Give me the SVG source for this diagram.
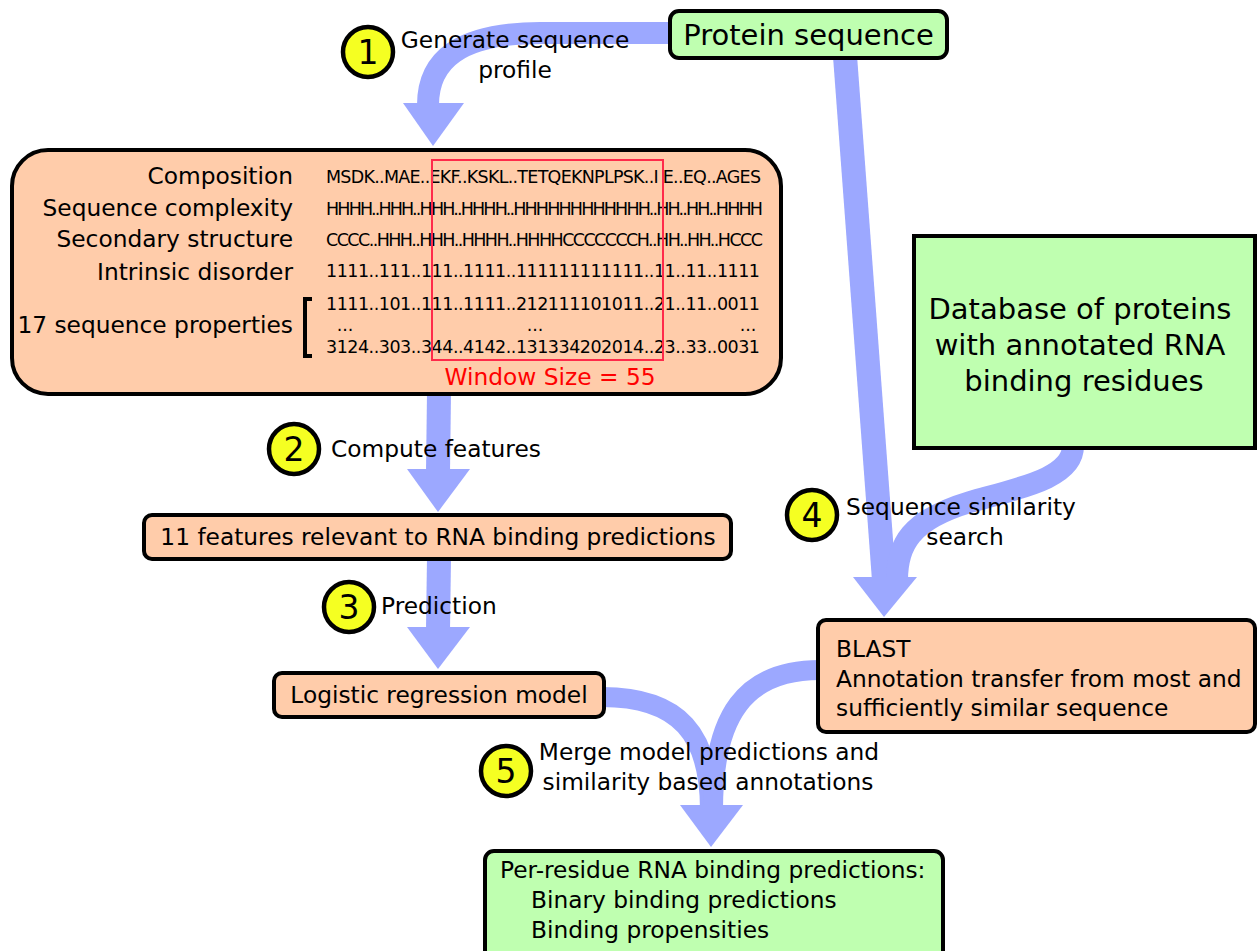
<svg xmlns="http://www.w3.org/2000/svg" width="1257" height="951" viewBox="0 0 1257 951">
<style>
text{font-family:"DejaVu Sans","Liberation Sans",sans-serif;fill:#000}
.t{font-size:23.3px}
.big{font-size:29px}
.seq{font-size:17.5px}
.orange{fill:#ffccaa;stroke:#000;stroke-width:4}
.green{fill:#bfffb0;stroke:#000;stroke-width:4}
.arr{fill:none;stroke:#9ca8ff}
.head{fill:#9ca8ff}
.num{fill:#f5ff22;stroke:#000;stroke-width:4.5}
.nt{font-size:33px;text-anchor:middle}
</style>
<rect width="1257" height="951" fill="#fff"/>
<g id="connectors">
  <path class="arr" stroke-width="22" d="M672 33 L540 33 C460 33 428 60 428 105"/>
  <polygon class="head" points="403,103 464,103 433,146"/>
  <path class="arr" stroke-width="24" d="M439 392 L438 472"/>
  <polygon class="head" points="407,469 470,469 438,512"/>
  <path class="arr" stroke-width="24" d="M439 557 L438 630"/>
  <polygon class="head" points="407,627 470,627 438,669"/>
  <path class="arr" stroke-width="24" d="M845 56 L884 580"/>
  <polygon class="head" points="853,577 917,577 884,617"/>
  <path class="arr" stroke-width="22" d="M1073 446 C1073 478 1020 488 970 502 C910 520 897 545 897 580"/>
  <path class="arr" stroke-width="20" d="M602 697 C680 697 710 735 710 810"/>
  <path class="arr" stroke-width="20" d="M820 670 C745 670 713 715 713 810"/>
  <polygon class="head" points="680,805 743,805 711,847"/>
</g>
<g id="protein">
  <rect class="green" x="670" y="11" width="277" height="47" rx="9"/>
  <text class="big" x="808.5" y="45" text-anchor="middle">Protein sequence</text>
</g>
<g id="step1">
  <circle class="num" cx="368" cy="52" r="25"/>
  <text class="nt" x="368" y="64">1</text>
  <text class="t" x="515" y="48" text-anchor="middle">Generate sequence</text>
  <text class="t" x="515" y="78" text-anchor="middle">profile</text>
</g>
<g id="profile">
  <rect class="orange" x="12" y="150" width="769" height="244" rx="36"/>
  <g class="t" text-anchor="end">
    <text x="293" y="184">Composition</text>
    <text x="293" y="216">Sequence complexity</text>
    <text x="293" y="247">Secondary structure</text>
    <text x="293" y="280">Intrinsic disorder</text>
    <text x="293" y="333">17 sequence properties</text>
  </g>
  <path d="M312 299 L305 299 L305 356 L312 356" fill="none" stroke="#000" stroke-width="4"/>
  <g class="seq">
    <text x="326" y="183" textLength="435" lengthAdjust="spacing">MSDK..MAE..EKF..KSKL..TETQEKNPLPSK..I E..EQ..AGES</text>
    <text x="326" y="215" textLength="437" lengthAdjust="spacing">HHHH..HHH..HHH..HHHH..HHHHHHHHHHHH..HH..HH..HHHH</text>
    <text x="326" y="246" textLength="437" lengthAdjust="spacing">CCCC..HHH..HHH..HHHH..HHHHCCCCCCCH..HH..HH..HCCC</text>
    <text x="326" y="277" textLength="434" lengthAdjust="spacing">1111..111..111..1111..111111111111..11..11..1111</text>
    <text x="326" y="310" textLength="434" lengthAdjust="spacing">1111..101..111..1111..212111101011..21..11..0011</text>
    <text x="345" y="331" text-anchor="middle">...</text>
    <text x="535" y="331" text-anchor="middle">...</text>
    <text x="748" y="331" text-anchor="middle">...</text>
    <text x="326" y="353" textLength="434" lengthAdjust="spacing">3124..303..344..4142..131334202014..23..33..0031</text>
  </g>
  <rect x="432" y="160" width="231" height="200" fill="none" stroke="#ff2a4a" stroke-width="2"/>
  <text class="t" x="550" y="385" text-anchor="middle" style="fill:#ff0000">Window Size = 55</text>
</g>
<g id="step2">
  <circle class="num" cx="294" cy="449" r="25"/>
  <text class="nt" x="294" y="461">2</text>
  <text class="t" x="331" y="457">Compute features</text>
</g>
<g id="features">
  <rect class="orange" x="144" y="515" width="587" height="44" rx="8"/>
  <text class="t" x="438" y="545" text-anchor="middle">11 features relevant to RNA binding predictions</text>
</g>
<g id="step3">
  <circle class="num" cx="349" cy="607" r="25"/>
  <text class="nt" x="349" y="619">3</text>
  <text class="t" x="381" y="614">Prediction</text>
</g>
<g id="logistic">
  <rect class="orange" x="274" y="673" width="330" height="44" rx="8"/>
  <text class="t" x="439" y="703" text-anchor="middle">Logistic regression model</text>
</g>
<g id="database">
  <rect class="green" x="914" y="236" width="341" height="212"/>
  <text class="big" x="1080" y="319" text-anchor="middle">Database of proteins</text>
  <text class="big" x="1080" y="355" text-anchor="middle">with annotated RNA</text>
  <text class="big" x="1084" y="391" text-anchor="middle">binding residues</text>
</g>
<g id="step4">
  <circle class="num" cx="812" cy="515" r="25"/>
  <text class="nt" x="812" y="527">4</text>
  <text class="t" x="846" y="515">Sequence similarity</text>
  <text class="t" x="965" y="545" text-anchor="middle">search</text>
</g>
<g id="blast">
  <rect class="orange" x="818" y="620" width="437" height="112" rx="8"/>
  <text class="t" x="836" y="657">BLAST</text>
  <text class="t" x="836" y="687">Annotation transfer from most and</text>
  <text class="t" x="836" y="716">sufficiently similar sequence</text>
</g>
<g id="step5">
  <circle class="num" cx="506" cy="771" r="25"/>
  <text class="nt" x="506" y="783">5</text>
  <text class="t" x="709" y="760" text-anchor="middle">Merge model predictions and</text>
  <text class="t" x="708" y="790" text-anchor="middle">similarity based annotations</text>
</g>
<g id="result">
  <rect class="green" x="485" y="851" width="458" height="110" rx="9"/>
  <text class="t" x="500" y="878">Per-residue RNA binding predictions:</text>
  <text class="t" x="531" y="908">Binary binding predictions</text>
  <text class="t" x="531" y="938">Binding propensities</text>
</g>
</svg>
